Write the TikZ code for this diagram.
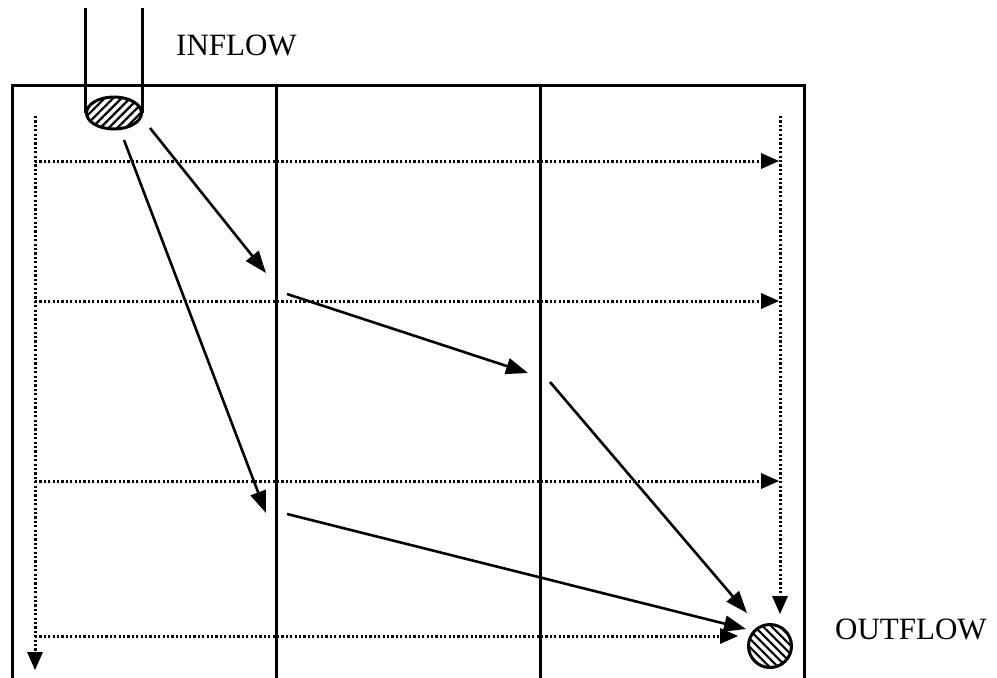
\documentclass[tikz,border=0pt]{standalone}
\usepackage{fontspec}
\setmainfont{Liberation Serif}
\usetikzlibrary{arrows.meta,patterns.meta,shapes.geometric}
\begin{document}
\begin{tikzpicture}[x=1pt,y=-1pt,
  wall/.style={line width=3pt},
  flow/.style={line width=2.6pt,-{Triangle[length=22pt,width=16pt]}},
  dotflow/.style={line width=3pt,dash pattern=on 2.2pt off 2.2pt,line cap=butt,
     -{Triangle[length=18pt,width=16pt,line width=0pt]}},
  lbl/.style={font=\fontsize{31}{32}\selectfont,anchor=west,inner sep=0pt}]
\useasboundingbox (0,0) rectangle (997,678);
% walls
\draw[wall] (12,690) -- (12,85) -- (804,85) -- (804,690);
\draw[wall] (276,85) -- (276,690);
\draw[wall] (540,85) -- (540,690);
% inlet tube
\node[draw,line width=3pt,ellipse,minimum width=55pt,minimum height=32pt,inner sep=0pt,
  pattern={Lines[angle=45,distance=6pt,line width=2.2pt]}] (in) at (114,113) {};
\coordinate (tubetop) at (0,8);
\draw[wall] (in.west) -- (in.west |- tubetop);
\draw[wall] (in.east) -- (in.east |- tubetop);
\node[lbl] (inlbl) at (176,45) {INFLOW};
% outlet
\node[draw,line width=3pt,circle,minimum size=43pt,inner sep=0pt,
  pattern={Lines[angle=-45,distance=6pt,line width=2.2pt]}] (out) at (770,646) {};
\node[lbl] (outlbl) at (835,629) {OUTFLOW};
% dotted flows
\coordinate (l0) at (35,116); \coordinate (l1) at (35,670);
\coordinate (r0) at (780,116); \coordinate (r1) at (780,614);
\draw[dotflow] (l0) -- (l1);
\draw[dotflow] (r0) -- (r1);
\foreach \y/\n in {161/a,301/b,481/c}{
  \coordinate (h\n0) at (35,\y); \coordinate (h\n1) at (779,\y);
  \draw[dotflow] (h\n0) -- (h\n1);
}
\coordinate (hd0) at (35,636); \coordinate (hd1) at (738,636);
\draw[dotflow] (hd0) -- (hd1);
% solid flows
\coordinate (a0) at (150,128); \coordinate (a1) at (266,273);
\coordinate (b0) at (124,140); \coordinate (b1) at (266,513);
\coordinate (c0) at (287,294); \coordinate (c1) at (528,373);
\coordinate (d0) at (550,382); \coordinate (d1) at (747,613);
\coordinate (e0) at (287,514); \coordinate (e1) at (746,629);
\draw[flow] (a0) -- (a1);
\draw[flow] (b0) -- (b1);
\draw[flow] (c0) -- (c1);
\draw[flow] (d0) -- (d1);
\draw[flow] (e0) -- (e1);
\end{tikzpicture}
\end{document}
